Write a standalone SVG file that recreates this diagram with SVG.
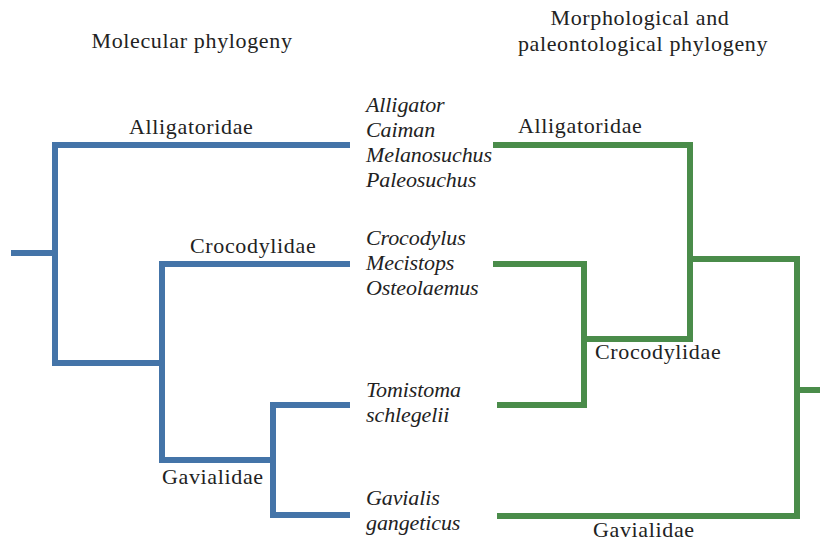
<svg xmlns="http://www.w3.org/2000/svg" width="820" height="542" viewBox="0 0 820 542">
  <style>
    .lbl { font-family: "Liberation Serif", "Times New Roman", serif; font-size: 22px; fill: #222; letter-spacing: 0.65px; }
    .sp { font-family: "Liberation Serif", "Times New Roman", serif; font-size: 22px; font-style: italic; fill: #222; letter-spacing: -0.1px; }
    .mol { fill: none; stroke: #4474a8; stroke-width: 6; stroke-linecap: butt; stroke-linejoin: miter; }
    .mor { fill: none; stroke: #4a8c4a; stroke-width: 6; stroke-linecap: butt; stroke-linejoin: miter; }
  </style>
  <rect width="820" height="542" fill="#ffffff"/>

  <!-- column headings -->
  <g id="titles">
    <text class="lbl" x="192" y="48" text-anchor="middle">Molecular phylogeny</text>
    <text class="lbl" x="640" y="25" text-anchor="middle">Morphological and</text>
    <text class="lbl" x="643" y="51" text-anchor="middle">paleontological phylogeny</text>
  </g>

  <!-- tree branches -->
  <g id="connectors">
    <!-- molecular tree -->
    <path class="mol" d="M11 253 H55"/>
    <path class="mol" d="M350 145 H55 V363 H162"/>
    <path class="mol" d="M350 264 H162 V460 H273"/>
    <path class="mol" d="M350 405 H273 V515 H350"/>
    <!-- morphological tree -->
    <path class="mor" d="M493 145 H690 V339 H584"/>
    <path class="mor" d="M493 264 H584 V405 H497"/>
    <path class="mor" d="M690 259 H797 V516 H497"/>
    <path class="mor" d="M797 390 H820"/>
  </g>

  <!-- clade labels, molecular tree -->
  <g id="mol-alligatoridae"><text class="lbl" x="129" y="134">Alligatoridae</text></g>
  <g id="mol-crocodylidae"><text class="lbl" x="190" y="253">Crocodylidae</text></g>
  <g id="mol-gavialidae"><text class="lbl" x="162" y="484">Gavialidae</text></g>

  <!-- clade labels, morphological tree -->
  <g id="mor-alligatoridae"><text class="lbl" x="518" y="133">Alligatoridae</text></g>
  <g id="mor-crocodylidae"><text class="lbl" x="595" y="359">Crocodylidae</text></g>
  <g id="mor-gavialidae"><text class="lbl" x="593" y="537">Gavialidae</text></g>

  <!-- genera (shared tips) -->
  <g id="taxa-alligatoridae">
    <text class="sp" x="366" y="112">Alligator</text>
    <text class="sp" x="366" y="137">Caiman</text>
    <text class="sp" x="366" y="162">Melanosuchus</text>
    <text class="sp" x="366" y="187">Paleosuchus</text>
  </g>
  <g id="taxa-crocodylidae">
    <text class="sp" x="366" y="245">Crocodylus</text>
    <text class="sp" x="366" y="270">Mecistops</text>
    <text class="sp" x="366" y="295">Osteolaemus</text>
  </g>
  <g id="taxa-tomistoma">
    <text class="sp" x="366" y="397">Tomistoma</text>
    <text class="sp" x="366" y="422">schlegelii</text>
  </g>
  <g id="taxa-gavialis">
    <text class="sp" x="366" y="505">Gavialis</text>
    <text class="sp" x="366" y="530">gangeticus</text>
  </g>
</svg>
